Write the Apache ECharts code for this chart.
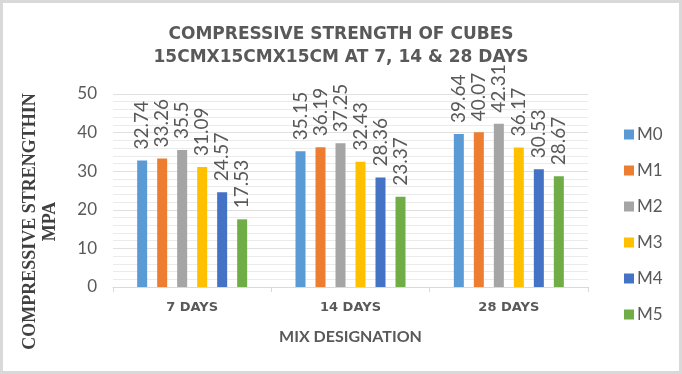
<!DOCTYPE html>
<html>
<head>
<meta charset="utf-8">
<script src="https://cdn.jsdelivr.net/npm/echarts@6/dist/echarts.min.js"></script>
<style>
html,body{margin:0;padding:0;background:#fff;}
#c{width:682px;height:374px;}
</style>
</head>
<body>
<div id="c"></div>
<script>
const categories = ['7 DAYS', '14 DAYS', '28 DAYS'];
const seriesNames = ['M0', 'M1', 'M2', 'M3', 'M4', 'M5'];
const M0 = [32.74, 35.15, 39.64];
const M1 = [33.26, 36.19, 40.07];
const M2 = [35.5, 37.25, 42.31];
const M3 = [31.09, 32.43, 36.17];
const M4 = [24.57, 28.36, 30.53];
const M5 = [17.53, 23.37, 28.67];
const seriesValues = [M0, M1, M2, M3, M4, M5];
const colors = ['#5B9BD5', '#ED7D31', '#A5A5A5', '#FFC000', '#4472C4', '#70AD47'];
const titleText = 'COMPRESSIVE STRENGTH OF CUBES\n15CMX15CMX15CM AT 7, 14 & 28 DAYS';
const xAxisName = 'MIX DESIGNATION';
const yAxisName = 'COMPRESSIVE STRENGTHIN\nMPA';

const chart = echarts.init(document.getElementById('c'), null, {renderer: 'canvas'});
const sans = 'Lato, "Open Sans", sans-serif';
const wide = '"DejaVu Sans", Verdana, sans-serif';
chart.setOption({
  animation: false,
  backgroundColor: '#ffffff',
  title: {
    text: titleText,
    left: 'center',
    top: 18,
    textStyle: {fontFamily: wide, fontSize: 17, fontWeight: 'bold', color: '#595959', lineHeight: 23}
  },
  legend: {
    orient: 'vertical',
    left: 619,
    top: 121,
    itemWidth: 10,
    itemHeight: 10,
    itemGap: 19,
    icon: 'rect',
    data: seriesNames,
    textStyle: {fontFamily: sans, fontSize: 17, color: '#595959', padding: [0, 0, 0, -2]}
  },
  grid: {left: 113, right: 94, top: 94, bottom: 87, containLabel: false},
  xAxis: {
    type: 'category',
    data: categories,
    name: xAxisName,
    nameLocation: 'middle',
    nameGap: 42,
    nameTextStyle: {fontFamily: sans, fontSize: 16, fontWeight: 'bold', color: '#595959'},
    axisLine: {show: true, lineStyle: {color: '#D9D9D9', width: 1}},
    axisTick: {show: true, length: 5, lineStyle: {color: '#D9D9D9'}},
    axisLabel: {fontFamily: wide, fontSize: 13, fontWeight: 'bold', color: '#595959', margin: 14}
  },
  yAxis: {
    type: 'value',
    min: 0,
    max: 50,
    interval: 10,
    name: yAxisName,
    nameLocation: 'middle',
    nameRotate: 90,
    nameGap: 53,
    nameTextStyle: {fontFamily: '"Liberation Serif", "DejaVu Serif", serif', fontSize: 18, fontWeight: 'bold', color: '#404040', lineHeight: 20, padding: [0, 62, 0, 0]},
    axisLine: {show: false},
    axisTick: {show: false},
    axisLabel: {fontFamily: sans, fontSize: 17, color: '#595959', margin: 16},
    splitLine: {show: true, lineStyle: {color: '#E0E0E0', width: 1}},
    minorTick: {show: false, splitNumber: 5},
    minorSplitLine: {show: true, lineStyle: {color: '#EBEBEB', width: 1}}
  },
  graphic: [{
    type: 'rect',
    shape: {x: 1.5, y: 1.5, width: 679, height: 371},
    style: {fill: 'none', stroke: '#D9D9D9', lineWidth: 3},
    silent: true,
    z: 100
  }],
  series: seriesNames.map((name, i) => ({
    name: name,
    type: 'bar',
    data: seriesValues[i],
    barWidth: 10,
    barGap: '100%',
    itemStyle: {color: colors[i]},
    label: {
      show: true,
      position: 'top',
      rotate: 90,
      align: 'left',
      verticalAlign: 'middle',
      distance: 11,
      fontFamily: sans,
      fontSize: 19,
      color: '#595959'
    }
  }))
});
</script>
</body>
</html>
